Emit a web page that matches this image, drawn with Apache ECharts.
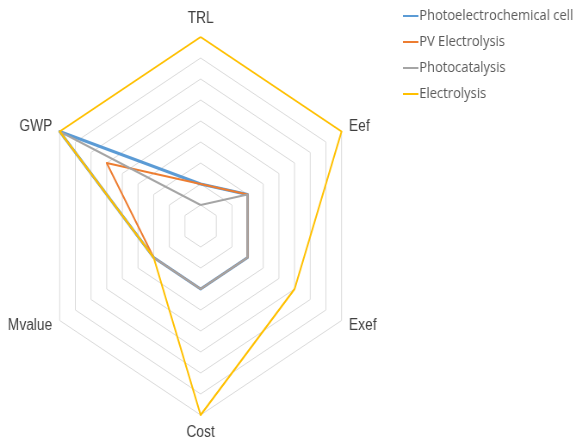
<!DOCTYPE html>
<html>
<head>
<meta charset="utf-8">
<script src="https://cdn.jsdelivr.net/npm/echarts@6/dist/echarts.min.js"></script>
<style>
    html, body { margin: 0; padding: 0; background: #fff; }
    #wrap { width: 576px; height: 443px; overflow: hidden; }
    /* the source picture is squeezed sideways, so the chart is drawn wider and scaled back */
    #main { width: 669px; height: 443px; transform: scaleX(0.861); transform-origin: 0 0; }
</style>
</head>
<body>
<div id="wrap"><div id="main"></div></div>
<script>
    // echarts places indicators counter-clockwise from the top
    var indicators = ['TRL', 'GWP', 'Mvalue', 'Cost', 'Exef', 'Eef'];
    var maxValue = 9;

    var seriesNames = ['Photoelectrochemical cell', 'PV Electrolysis', 'Photocatalysis', 'Electrolysis'];
    var pecValues = [2, 9, 3, 3, 3, 3];
    var pvValues = [2, 6, 3, 3, 3, 3];
    var photocatValues = [1, 9, 3, 3, 3, 3];
    var electroValues = [9, 9, 3, 9, 6, 9];

    var colors = ['#5B9BD5', '#ED7D31', '#A5A5A5', '#FFC000'];
    var widths = [3, 2, 2, 2];

    var chart = echarts.init(document.getElementById('main'));
    var allValues = [pecValues, pvValues, photocatValues, electroValues];

    var option = {
        color: colors,
        animation: false,
        legend: {
            orient: 'vertical',
            left: 463,
            top: 3,
            icon: 'rect',
            itemWidth: 18,
            itemHeight: 2,
            itemGap: 10,
            textStyle: {
                color: '#595959',
                fontSize: 15,
                lineHeight: 16,
                fontFamily: 'Open Sans',
                padding: [0, 0, 0, -4]
            },
            data: seriesNames
        },
        radar: {
            center: [233, 226],
            radius: 189,
            startAngle: 90,
            splitNumber: 9,
            shape: 'polygon',
            nameGap: 10,
            axisName: {
                color: '#404040',
                fontSize: 16,
                fontFamily: 'Liberation Sans'
            },
            indicator: indicators.map(function (n) {
                return {name: n, min: 0, max: maxValue};
            }),
            axisLine: {show: false},
            axisTick: {show: false},
            splitArea: {show: false},
            splitLine: {lineStyle: {color: '#D9D9D9', width: 1}}
        },
        series: seriesNames.map(function (name, i) {
            return {
                type: 'radar',
                name: name,
                symbol: 'none',
                lineStyle: {color: colors[i], width: widths[i]},
                data: [{name: name, value: allValues[i]}]
            };
        })
    };

    chart.setOption(option);
</script>
</body>
</html>
